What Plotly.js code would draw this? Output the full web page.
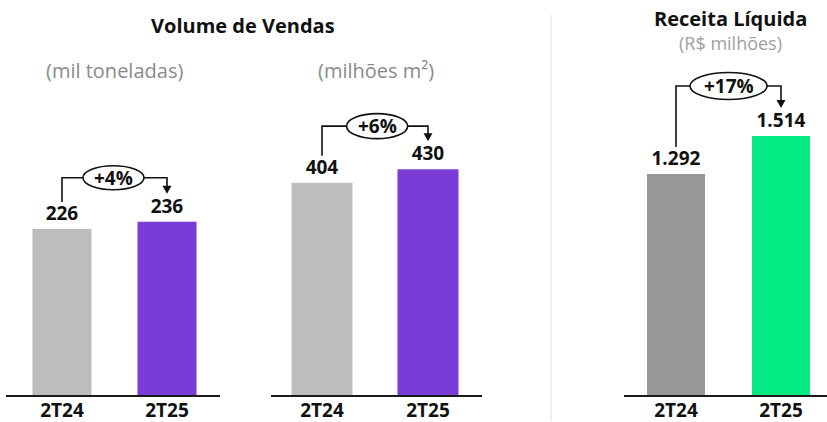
<!DOCTYPE html>
<html><head><meta charset="utf-8">
<script src="https://cdn.plot.ly/plotly-3.0.1.min.js"></script>
<style>html,body{margin:0;padding:0;background:#fff}#chart{width:827px;height:422px}</style>
</head><body><div id="chart"></div>
<script>
// ---- data ----
const categories = ['2T24', '2T25'];
const volumeMilToneladas = [226, 236];
const volumeMilhoesM2 = [404, 430];
const receitaLiquida = [1292, 1514];
const growthLabels = ['+4%', '+6%', '+17%'];
const groupTitles = ['Volume de Vendas', 'Receita Líquida'];
const unitLabels = ['(mil toneladas)', '(milhões m²)', '(R$ milhões)'];

// ---- layout helpers ----
const W = 827, H = 422, BASE = 395;
const FONT = 'Open Sans, Noto Sans, sans-serif';
const fmt = v => String(v).replace(/\B(?=(\d{3})+(?!\d))/g, '.');

const panels = [
  {vals: volumeMilToneladas, dom: [6, 220], c: [62, 167], bw: 59, ymax: 538,
   colors: ['#BDBDBD', '#7A3CD6'], lvl: 44, ew: 30.5, eh: 12, cx: 0.49},
  {vals: volumeMilhoesM2, dom: [271, 482], c: [322, 428], bw: 61, ymax: 752,
   colors: ['#BDBDBD', '#7A3CD6'], lvl: 43, ew: 30.5, eh: 12.5, cx: 0.52},
  {vals: receitaLiquida, dom: [624, 827], c: [676, 781], bw: 58, ymax: 2309,
   colors: ['#979797', '#03EA84'], lvl: 50, ew: 38.5, eh: 13.5, cx: 0.5}
];

const data = [];
const layout = {
  width: W, height: H, margin: {l: 0, r: 0, t: 0, b: 0},
  paper_bgcolor: '#fff', plot_bgcolor: 'rgba(0,0,0,0)',
  showlegend: false, font: {family: FONT}, shapes: [], annotations: []
};

panels.forEach((p, i) => {
  const n = i === 0 ? '' : String(i + 1);
  const xa = 'xaxis' + n, ya = 'yaxis' + n;
  const sp = p.c[1] - p.c[0];
  const ppu = BASE / p.ymax;
  layout[xa] = {
    domain: [p.dom[0] / W, p.dom[1] / W],
    range: [-(p.c[0] - p.dom[0]) / sp, 1 + (p.dom[1] - p.c[1]) / sp],
    type: 'category', showline: true, linecolor: '#1a1a1a', linewidth: 2,
    ticks: '', showgrid: false, zeroline: false, fixedrange: true,
    ticklabelstandoff: -3,
    tickfont: {family: FONT, size: 19, color: '#111', weight: 700},
    anchor: 'y' + n
  };
  layout[ya] = {
    domain: [(H - BASE) / H, 1], range: [0, p.ymax], visible: false,
    showgrid: false, zeroline: false, anchor: 'x' + n, fixedrange: true
  };
  data.push({
    type: 'bar', x: categories, y: p.vals, xaxis: 'x' + n, yaxis: 'y' + n,
    width: p.bw / sp, marker: {color: p.colors},
    text: p.vals.map(fmt), textposition: 'outside', constraintext: 'none',
    cliponaxis: false, hoverinfo: 'none',
    textfont: {family: FONT, size: 19, color: '#111', weight: 700}
  });

  // growth bracket
  const px = v => v / ppu;             // pixels -> data units
  const top0 = p.vals[0], top1 = p.vals[1];
  const yStart = top0 + px(27);
  const yLvl = Math.max(top0, top1) + px(p.lvl);
  const yTip = top1 + px(28);
  const cx = p.cx, ew = p.ew / sp, eh = px(p.eh);
  const xr = 'x' + n, yr = 'y' + n;
  const ln = {color: '#111', width: 1.6};
  layout.shapes.push({type: 'path', xref: xr, yref: yr, line: ln,
    path: `M 0,${yStart} L 0,${yLvl} L ${cx - ew},${yLvl}`});
  layout.shapes.push({type: 'path', xref: xr, yref: yr, line: ln,
    path: `M ${cx + ew},${yLvl} L 1,${yLvl} L 1,${yTip + px(6)}`});
  const hw = 4.5 / sp;
  layout.shapes.push({type: 'path', xref: xr, yref: yr, line: {width: 0},
    fillcolor: '#111',
    path: `M ${1 - hw},${yTip + px(8)} L ${1 + hw},${yTip + px(8)} L 1,${yTip} Z`});
  layout.shapes.push({type: 'circle', xref: xr, yref: yr, line: ln,
    fillcolor: '#fff', x0: cx - ew, x1: cx + ew, y0: yLvl - eh, y1: yLvl + eh});
  layout.annotations.push({xref: xr, yref: yr, x: cx, y: yLvl, text: growthLabels[i],
    showarrow: false, font: {family: FONT, size: 19, color: '#111', weight: 700}});
});

// separator
layout.shapes.push({type: 'line', xref: 'paper', yref: 'paper',
  x0: 551 / W, x1: 551 / W, y0: 1 - 15 / H, y1: 1 - 421 / H,
  line: {color: '#EFEFEF', width: 2}});

// titles
const py = v => 1 - v / H;
const txt = (x, y, text, size, color, weight) => layout.annotations.push({
  xref: 'paper', yref: 'paper', x: x / W, y: py(y), xanchor: 'center', yanchor: 'middle',
  text, showarrow: false, font: {family: FONT, size, color, weight}});
txt(243, 25, groupTitles[0], 20, '#111', 700);
txt(730, 19, groupTitles[1], 20, '#111', 700);
txt(114, 70, unitLabels[0], 20, '#8a8a8a', 400);
txt(376, 70, unitLabels[1], 20, '#8a8a8a', 400);
txt(730, 43, unitLabels[2], 18, '#a0a0a0', 400);

Plotly.newPlot('chart', data, layout, {displayModeBar: false, staticPlot: true});
</script></body></html>
